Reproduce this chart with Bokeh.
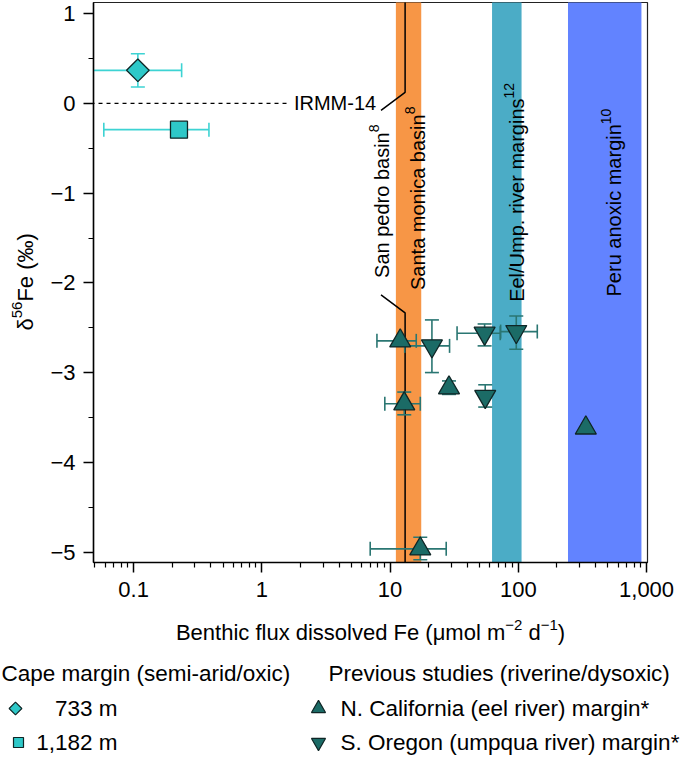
import math
from bokeh.plotting import figure
from bokeh.models import Range1d, FixedTicker, CustomJSTickFormatter
from bokeh.layouts import row
from bokeh.embed import file_html
from bokeh.resources import INLINE
from bokeh.core.properties import value

FONT = "Liberation Sans"

# ---------------- data ----------------
# Cape margin (this study)
d733_x, d733_y = [0.108], [0.367]
d733_xlo, d733_xhi = [0.040], [0.237]
d733_ylo, d733_yhi = [0.181], [0.552]

d1182_x, d1182_y = [0.226], [-0.293]
d1182_xlo, d1182_xhi = [0.0586], [0.387]

# N. California (eel river) margin
nc_x = [12.0, 12.9, 28.8, 17.2, 336.0]
nc_y = [-2.644, -3.344, -3.167, -4.959, -3.613]
nc_xlo = [7.9, 9.1, None, 7.0, None]
nc_xhi = [16.0, 17.2, None, 27.4, None]
nc_ylo = [None, -3.467, -3.24, -5.08, None]
nc_yhi = [None, -3.214, -3.09, -4.83, None]

# S. Oregon (umpqua river) margin
so_x = [21.2, 54.6, 96.4, 55.2]
so_y = [-2.70, -2.559, -2.541, -3.263]
so_xlo = [13.0, 33.3, 72.8, None]
so_xhi = [29.1, 72.3, 140.6, None]
so_ylo = [-2.997, -2.70, -2.737, -3.381]
so_yhi = [-2.411, -2.456, -2.367, -3.133]

# literature flux ranges (bands)
band_lo = [11.1, 62.4, 244.0]
band_hi = [17.5, 106.0, 912.0]
band_colors = ["#F79646", "#4BACC6", "#6283FF"]
band_text = ["Santa monica basin", "Eel/Ump. river margins", "Peru anoxic margin"]
band_ref = ["8", "12", "10"]
band_text_x = [16.5, 97.8, 558.0]
band_text_y = [-2.078, -2.21, -2.15]

# San Pedro basin single value with leader lines
sp_top_x = [13.1, 13.1, 8.5]
sp_top_y = [1.3, 0.122, -0.078]
sp_bot_x = [13.1, 13.1, 8.5]
sp_bot_y = [-5.3, -2.333, -2.133]
sp_text, sp_ref, sp_text_x, sp_text_y = ["San pedro basin"], ["8"], [8.66], [-1.944]

# IRMM-14 reference line
irmm_x = [0.03, 1.585]
irmm_y = [0.0, 0.0]
irmm_text, irmm_text_x, irmm_text_y = ["IRMM-14"], [1.78], [0.0]

x_ticks = [0.1, 1, 10, 100, 1000]
x_tick_labels = ["0.1", "1", "10", "100", "1,000"]
x_minor = [m * 10.0 ** e for e in range(-2, 3) for m in range(2, 10)]
y_ticks = [-5, -4, -3, -2, -1, 0, 1]
y_tick_labels = ["\u22125", "\u22124", "\u22123", "\u22122", "\u22121", "0", "1"]
y_minor = [-4.5, -3.5, -2.5, -1.5, -0.5, 0.5]

x_title = ["Benthic flux dissolved Fe (\u03bcmol m", "\u22122", "d", "\u22121", ")"]
x_title_sup = [False, True, False, True, False]
y_title = ["\u03b4", "56", "Fe (\u2030)"]
y_title_sup = [False, True, False]

CYAN = "#2EC8C8"
CYAN_ERR = "#3DD3D3"
TEAL = "#1B6B66"
TEAL_ERR = "#2A7672"
EDGE = "#0F2626"

# Arial / Liberation Sans advance widths (per 1000 em) used to place superscripts
W = {" ": 278, "(": 333, ")": 333, ".": 278, "/": 278, "\u2212": 584, "B": 667, "E": 667, "F": 611,
     "P": 667, "S": 667, "U": 722, "a": 556, "b": 556, "c": 500, "d": 556, "e": 556, "f": 278,
     "g": 556, "h": 556, "i": 222, "l": 222, "m": 833, "n": 556, "o": 556, "p": 556, "r": 333,
     "s": 500, "t": 278, "u": 556, "v": 500, "x": 500, "y": 500, "\u03bc": 576, "\u03b4": 556,
     "\u2030": 1000}
for d in "0123456789":
    W[d] = 556


def tw(s, size):
    return sum(W[c] for c in s) * size / 1000.0


AX, AXS = 22, 15  # axis title font / superscript font (px)

# ---------------- y title strip (left) ----------------
YW = 43
yf = figure(width=YW, height=606, x_range=Range1d(0, YW), y_range=Range1d(562, 2),
            output_backend="svg", toolbar_location=None, min_border=0,
            min_border_left=0, min_border_right=0, min_border_top=2, min_border_bottom=44,
            x_axis_location=None, y_axis_location=None)
yf.grid.visible = False
yf.outline_line_color = None
cy = 330.0
for t, s in zip(y_title, y_title_sup):
    size = AXS if s else AX
    yf.text(x=[16 if s else 25], y=[cy], text=[t], angle=math.pi / 2, text_font=value(FONT),
            text_font_size=f"{size}px", text_align="left", text_baseline="alphabetic", text_color="black")
    cy -= tw(t, size)

# ---------------- main plot ----------------
p = figure(width=685 - YW, height=606, x_axis_type="log",
           x_range=Range1d(0.0487, 1017), y_range=Range1d(-5.111, 1.122),
           output_backend="svg", toolbar_location=None,
           min_border_left=93 - YW, min_border_right=38, min_border_top=2, min_border_bottom=44)
p.grid.visible = False
p.outline_line_color = "#222222"
p.outline_line_width = 1.2
p.background_fill_color = "white"

# bands
p.quad(left=band_lo, right=band_hi, bottom=-10, top=10, fill_color=band_colors, line_color=None)

# reference line + label
p.line(irmm_x, irmm_y, line_color="black", line_width=1.2, line_dash="4 4")
p.text(x=irmm_text_x, y=irmm_text_y, text=irmm_text, text_font=value(FONT), text_font_size="20px",
       text_align="left", text_baseline="middle", text_color="black")

# San pedro leader lines
p.line(sp_top_x, sp_top_y, line_color="black", line_width=1.5)
p.line(sp_bot_x, sp_bot_y, line_color="black", line_width=1.5)

# rotated labels with superscript references
ANN, SUP = 20, 14
for xs, ys, texts, refs in ((band_text_x, band_text_y, band_text, band_ref),
                            (sp_text_x, sp_text_y, sp_text, sp_ref)):
    p.text(x=xs, y=ys, text=texts, angle=math.pi / 2, text_font=value(FONT),
           text_font_size=f"{ANN}px", text_align="left", text_baseline="alphabetic", text_color="black")
    p.text(x=xs, y=ys, text=refs, angle=math.pi / 2, text_font=value(FONT),
           text_font_size=f"{SUP}px", text_align="left", text_baseline="alphabetic", text_color="black",
           x_offset=-8, y_offset=[-tw(t, ANN) for t in texts])


def errbars(xs, ys, xlo, xhi, ylo, yhi, color):
    for x, y, a, b in zip(xs, ys, xlo, xhi):
        if a is None:
            continue
        p.segment(x0=[a], y0=[y], x1=[b], y1=[y], line_color=color, line_width=1.6)
        p.scatter(x=[a, b], y=[y, y], marker="dash", angle=math.pi / 2, size=14,
                  line_color=color, line_width=1.6)
    for x, y, a, b in zip(xs, ys, ylo, yhi):
        if a is None:
            continue
        p.segment(x0=[x], y0=[a], x1=[x], y1=[b], line_color=color, line_width=1.6)
        p.scatter(x=[x, x], y=[a, b], marker="dash", size=14, line_color=color, line_width=1.6)


errbars(d733_x, d733_y, d733_xlo, d733_xhi, d733_ylo, d733_yhi, CYAN_ERR)
errbars(d1182_x, d1182_y, d1182_xlo, d1182_xhi, [None], [None], CYAN_ERR)
errbars(nc_x, nc_y, nc_xlo, nc_xhi, nc_ylo, nc_yhi, TEAL_ERR)
errbars(so_x, so_y, so_xlo, so_xhi, so_ylo, so_yhi, TEAL_ERR)

p.scatter(d733_x, d733_y, marker="square", angle=math.pi / 4, size=16, fill_color=CYAN,
          line_color=EDGE, line_width=1.3)
p.scatter(d1182_x, d1182_y, marker="square", size=17, fill_color=CYAN, line_color=EDGE, line_width=1.3)
p.scatter(nc_x, nc_y, marker="triangle", size=21, fill_color=TEAL, line_color=EDGE, line_width=1.3)
p.scatter(so_x, so_y, marker="inverted_triangle", size=21, fill_color=TEAL, line_color=EDGE, line_width=1.3)

# axes
p.xaxis.ticker = FixedTicker(ticks=x_ticks, minor_ticks=x_minor)
p.xaxis.formatter = CustomJSTickFormatter(args=dict(tv=x_ticks, lab=x_tick_labels),
                                          code="const i = tv.findIndex(t => Math.abs(t - tick) < 1e-9*Math.max(1, Math.abs(t))); return i >= 0 ? lab[i] : '';")
p.yaxis.ticker = FixedTicker(ticks=y_ticks, minor_ticks=y_minor)
p.yaxis.formatter = CustomJSTickFormatter(args=dict(tv=y_ticks, lab=y_tick_labels),
                                          code="const i = tv.findIndex(t => Math.abs(t - tick) < 1e-9); return i >= 0 ? lab[i] : '';")

for ax in (p.xaxis[0], p.yaxis[0]):
    ax.major_tick_out = 10
    ax.major_tick_in = 0
    ax.minor_tick_out = 5
    ax.minor_tick_in = 0
    ax.axis_line_width = 1.5
    ax.axis_line_color = "black"
    ax.major_tick_line_width = 1.5
    ax.minor_tick_line_width = 1.2
    ax.major_tick_line_color = "black"
    ax.minor_tick_line_color = "black"
    ax.major_label_text_font = FONT
    ax.major_label_text_font_size = "22px"
    ax.major_label_text_color = "black"

p.xaxis.major_label_standoff = 9
p.yaxis.major_label_standoff = 8

# ---------------- x title + legend panel (page y 606..757) ----------------
lg = figure(width=685, height=151, x_range=Range1d(0, 685), y_range=Range1d(0, 151),
            output_backend="svg", toolbar_location=None, min_border=0,
            min_border_left=0, min_border_right=0, min_border_top=0, min_border_bottom=0,
            x_axis_location=None, y_axis_location=None)
lg.grid.visible = False
lg.outline_line_color = None

# x title centred under the plot frame (frame spans page x 93..647)
gaps = [0, 0, tw(" ", AX), 0, 0]
total = sum(tw(t, AXS if s else AX) + g for t, s, g in zip(x_title, x_title_sup, gaps))
cx = 370 - total / 2
for t, s, g in zip(x_title, x_title_sup, gaps):
    cx += g
    size = AXS if s else AX
    lg.text(x=[cx], y=[133 if s else 125], text=[t], text_font=value(FONT), text_font_size=f"{size}px",
            text_align="left", text_baseline="alphabetic", text_color="black")
    cx += tw(t, size)

leg_head = ["Cape margin (semi-arid/oxic)", "Previous studies (riverine/dysoxic)"]
leg_head_x = [1, 328]
leg_head_y = [84, 84]
leg_cape_text = ["733 m", "1,182 m"]
leg_prev_text = ["N. California (eel river) margin*", "S. Oregon (umpqua river) margin*"]
leg_row_y = [49, 15]

LF = "22.5px"
lg.text(x=leg_head_x, y=leg_head_y, text=leg_head, text_font=value(FONT), text_font_size=LF,
        text_align="left", text_baseline="middle", text_color="black")
lg.scatter([15], [leg_row_y[0]], marker="square", angle=math.pi / 4, size=9, fill_color=CYAN,
           line_color=EDGE, line_width=1.2)
lg.scatter([18], [leg_row_y[1]], marker="square", size=10, fill_color=CYAN, line_color=EDGE, line_width=1.2)
lg.text(x=[117, 117], y=leg_row_y, text=leg_cape_text, text_font=value(FONT), text_font_size=LF,
        text_align="right", text_baseline="middle", text_color="black")
lg.scatter([318], [leg_row_y[0]], marker="triangle", size=14, fill_color=TEAL, line_color=EDGE, line_width=1.2)
lg.scatter([318], [leg_row_y[1]], marker="inverted_triangle", size=14, fill_color=TEAL, line_color=EDGE,
           line_width=1.2)
lg.text(x=[340, 340], y=leg_row_y, text=leg_prev_text, text_font=value(FONT), text_font_size=LF,
        text_align="left", text_baseline="middle", text_color="black")

top = row(yf, p, spacing=0)
open("out.html", "w").write(file_html([top, lg], INLINE))
